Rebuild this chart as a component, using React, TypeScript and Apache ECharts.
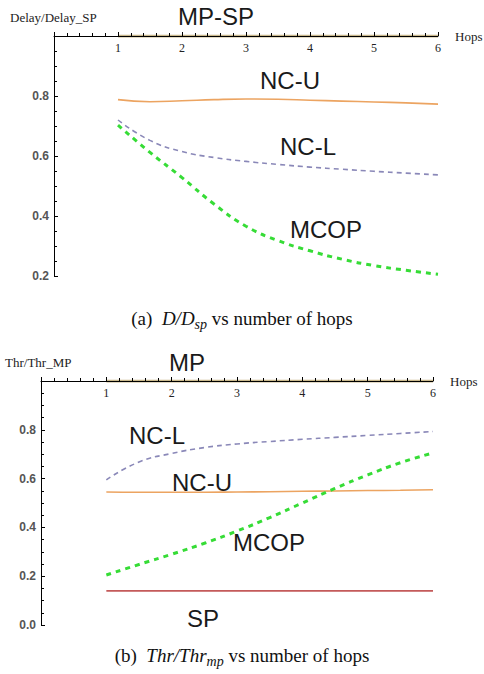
import React, { useEffect, useRef } from "react";
import * as echarts from "echarts";

const hops = [1, 1.5, 2, 2.5, 3, 3.5, 4, 4.5, 5, 5.5, 6];
const xTicks = [0, 1, 2, 3, 4, 5, 6];

// (a) Delay / Delay_SP
const delayMPSP = [1, 1, 1, 1, 1, 1, 1, 1, 1, 1, 1];
const delayNCU = [0.788, 0.781, 0.784, 0.788, 0.79, 0.789, 0.786, 0.783, 0.78, 0.777, 0.773];
const delayNCL = [0.72, 0.652, 0.615, 0.595, 0.582, 0.572, 0.563, 0.556, 0.549, 0.543, 0.537];
const delayMCOP = [0.703, 0.612, 0.528, 0.44, 0.366, 0.318, 0.284, 0.256, 0.235, 0.219, 0.206];

// (b) Thr / Thr_MP
const thrMP = [1, 1, 1, 1, 1, 1, 1, 1, 1, 1, 1];
const thrNCL = [0.595, 0.668, 0.703, 0.727, 0.742, 0.752, 0.761, 0.769, 0.777, 0.785, 0.793];
const thrNCU = [0.545, 0.544, 0.544, 0.544, 0.545, 0.546, 0.548, 0.549, 0.551, 0.552, 0.554];
const thrMCOP = [0.205, 0.248, 0.29, 0.335, 0.385, 0.44, 0.5, 0.56, 0.615, 0.665, 0.705];
const thrSP = [0.14, 0.14, 0.14, 0.14, 0.14, 0.14, 0.14, 0.14, 0.14, 0.14, 0.14];

const SERIF = "'Liberation Serif', 'DejaVu Serif', serif";
const SANS = "'Liberation Sans', Arial, sans-serif";

const pts = (ys: number[]) => hops.map((x, i) => [x, ys[i]]);

function xAxisOf(gridIndex: number) {
  return {
    type: "value",
    gridIndex,
    min: xTicks[0],
    max: xTicks[xTicks.length - 1],
    interval: 1,
    position: "top",
    z: 5,
    name: "Hops",
    nameLocation: "end",
    nameGap: 17,
    nameTextStyle: { fontFamily: SERIF, fontSize: 13, color: "#222", verticalAlign: "middle" },
    axisLine: { show: true, onZero: false, lineStyle: { color: "#000", width: 1 } },
    axisTick: { show: true, length: 4, lineStyle: { color: "#000" } },
    minorTick: { show: true, splitNumber: 5, length: 3, lineStyle: { color: "#000" } },
    splitLine: { show: false },
    axisLabel: {
      inside: true,
      margin: 6,
      fontFamily: SERIF,
      fontSize: 12,
      color: "#222",
      formatter: (v: number) => (v === 0 ? "" : String(v)),
    },
  };
}

function yAxisOf(gridIndex: number, min: number) {
  return {
    type: "value",
    gridIndex,
    min,
    max: 1,
    interval: 0.2,
    axisLine: { show: true, onZero: false, lineStyle: { color: "#000", width: 1 } },
    axisTick: { show: true, inside: true, length: 4, lineStyle: { color: "#000" } },
    minorTick: { show: true, splitNumber: 4, length: 3, lineStyle: { color: "#000" } },
    splitLine: { show: false },
    axisLabel: {
      margin: 5,
      fontFamily: SANS,
      fontWeight: "bold",
      fontSize: 12,
      color: "#555",
      formatter: (v: number) => (Math.abs(v - 1) < 1e-9 ? "" : v.toFixed(1)),
    },
  };
}

function line(name: string, data: number[], idx: number, color: string, width: number, type: any, z = 2) {
  return {
    name,
    type: "line",
    xAxisIndex: idx,
    yAxisIndex: idx,
    data: pts(data),
    smooth: true,
    showSymbol: false,
    symbol: "none",
    z,
    lineStyle: { color, width, type },
  };
}

function label(text: string, x: number, y: number) {
  return {
    type: "text",
    x,
    y,
    style: {
      text,
      fill: "#1a1a1a",
      fontFamily: SANS,
      fontSize: 24,
      textVerticalAlign: "middle",
    },
  };
}

function small(text: string, x: number, y: number) {
  return {
    type: "text",
    x,
    y,
    style: {
      text,
      fill: "#222",
      fontFamily: SERIF,
      fontSize: 13,
      textVerticalAlign: "middle",
    },
  };
}

function caption(letter: string, a: string, b: string, sub: string, y: number) {
  return {
    type: "text",
    x: 242,
    y,
    style: {
      text: `(${letter})  {i|${a}/${b}}{s|${sub}} vs number of hops`,
      fill: "#111",
      fontFamily: SERIF,
      fontSize: 19,
      lineHeight: 26,
      textAlign: "center",
      textVerticalAlign: "middle",
      rich: {
        i: { fontFamily: SERIF, fontStyle: "italic", fontSize: 19, fill: "#111" },
        s: {
          fontFamily: SERIF,
          fontStyle: "italic",
          fontSize: 14,
          fill: "#111",
          verticalAlign: "bottom",
          lineHeight: 12,
        },
      },
    },
  };
}

export default function App() {
  const ref = useRef<HTMLDivElement>(null);
  useEffect(() => {
    if (!ref.current) return;
    const chart = echarts.init(ref.current, null, { renderer: "svg" });
    chart.setOption({
      animation: false,
      backgroundColor: "#fff",
      grid: [
        { left: 54, top: 36, width: 384, height: 240 },
        { left: 41, top: 381, width: 392, height: 244 },
      ],
      xAxis: [xAxisOf(0), xAxisOf(1)],
      yAxis: [yAxisOf(0, 0.2), yAxisOf(1, 0)],
      series: [
        line("MP-SP", delayMPSP, 0, "#c9b88c", 3, "solid", 1),
        line("NC-U", delayNCU, 0, "#eca461", 1.6, "solid"),
        line("NC-L", delayNCL, 0, "#8a88b8", 1.6, [5, 4]),
        line("MCOP", delayMCOP, 0, "#36dc36", 3, [5, 5]),
        line("MP", thrMP, 1, "#c9b88c", 3, "solid", 1),
        line("NC-L", thrNCL, 1, "#8a88b8", 1.6, [5, 4]),
        line("NC-U", thrNCU, 1, "#eca461", 1.6, "solid"),
        line("MCOP", thrMCOP, 1, "#36dc36", 3, [5, 5]),
        line("SP", thrSP, 1, "#c45a5a", 1.6, "solid"),
      ],
      graphic: [
        small("Delay/Delay_SP", 10, 17),
        label("MP-SP", 178, 16),
        label("NC-U", 260, 80),
        label("NC-L", 280, 146),
        label("MCOP", 290, 229),
        caption("a", "D", "D", "sp", 318),
        small("Thr/Thr_MP", 5, 362),
        label("MP", 169, 362),
        label("NC-L", 129, 435),
        label("NC-U", 172, 482),
        label("MCOP", 233, 542),
        label("SP", 187, 618),
        caption("b", "Thr", "Thr", "mp", 655),
      ],
    });
    return () => chart.dispose();
  }, []);
  return (
    <div
      ref={ref}
      style={{ position: "fixed", left: 0, top: 0, width: 484, height: 674, background: "#fff" }}
    />
  );
}
